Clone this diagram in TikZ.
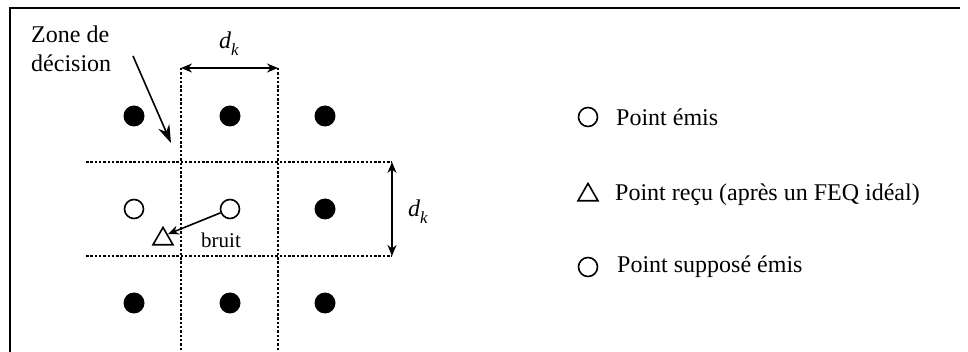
\documentclass[tikz,border=0pt]{standalone}
\usepackage{fontspec}
\setmainfont{Liberation Serif}
\usetikzlibrary{arrows.meta,shapes.geometric}
\newcommand\dksym{\textit{d}\raisebox{-0.28em}{\fontsize{17}{17}\selectfont\textit{k}}}
\begin{document}
\begin{tikzpicture}[x=1pt,y=-1pt,
  txt/.style={font=\fontsize{24}{29}\selectfont, inner sep=0pt},
  small/.style={font=\fontsize{21}{24}\selectfont, inner sep=0pt},
  fullpt/.style={circle, fill=black, minimum size=21pt, inner sep=0pt},
  openpt/.style={circle, draw=black, line width=1.6pt, minimum size=19pt, inner sep=0pt},
  recpt/.style={isosceles triangle, isosceles triangle apex angle=60, shape border rotate=90, draw=black, line width=1.6pt, minimum height=17pt, minimum width=20pt, inner sep=0pt},
  grid/.style={line width=1.5pt, dash pattern=on 2.5pt off 1.8pt},
  arr/.style={line width=1.6pt, -{Stealth[length=11pt,width=9pt]}},
  darr/.style={line width=1.6pt, {Stealth[length=11pt,width=9pt]}-{Stealth[length=11pt,width=9pt]}}
]
\useasboundingbox (0,0) rectangle (968,352);
% frame
\coordinate (fbl) at (10,352);
\coordinate (ftl) at (10,8);
\coordinate (ftr) at (960,8);
\draw[line width=2pt] (fbl) -- (ftl) -- (ftr);

% grid of points
\node[fullpt] (p11) at (134,116) {};
\node[fullpt] (p12) at (230,116) {};
\node[fullpt] (p13) at (325,116) {};
\node[openpt] (p21) at (134,209) {};
\node[openpt] (p22) at (230,209) {};
\node[fullpt] (p23) at (325,209) {};
\node[fullpt] (p31) at (134,303) {};
\node[fullpt] (p32) at (230,303) {};
\node[fullpt] (p33) at (325,303) {};

% decision zone lines
\coordinate (v1t) at (181,68);
\coordinate (v1b) at (181,352);
\coordinate (v2t) at (278,68);
\coordinate (v2b) at (278,352);
\coordinate (h1l) at (86,162);
\coordinate (h1r) at (392,162);
\coordinate (h2l) at (86,256);
\coordinate (h2r) at (392,256);
\draw[grid] (v1t) -- (v1b);
\draw[grid] (v2t) -- (v2b);
\draw[grid] (h1l) -- (h1r);
\draw[grid] (h2l) -- (h2r);

% dimension arrows
\draw[darr] (v1t) -- (v2t);
\node[txt] (dk1) at (229,44) {\dksym};
\draw[darr] (h1r) -- (h2r);
\node[txt] (dk2) at (418,212) {\dksym};

% zone label
\node[txt, anchor=base west, align=left] (zone) at (31,72) {Zone de\\décision};
\coordinate (zs) at (133,56);
\coordinate (ze) at (171,143);
\draw[arr, -{Stealth[length=18pt,width=12pt]}] (zs) -- (ze);

% received point
\node[recpt] (rx) at (163,239) {};
\draw[arr] (p22) -- (rx.north east);
\node[small] (bruit) at (221,240) {bruit};

% legend
\node[openpt] (l1) at (588,117) {};
\node[txt, anchor=west] (t1) at (616,117) {Point émis};
\node[recpt] (l2) at (588,195) {};
\node[txt, anchor=west] (t2) at (615,195) {Point reçu (après un FEQ idéal)};
\node[openpt] (l3) at (588,267) {};
\node[txt, anchor=west] (t3) at (617,267) {Point supposé émis};
\end{tikzpicture}
\end{document}
